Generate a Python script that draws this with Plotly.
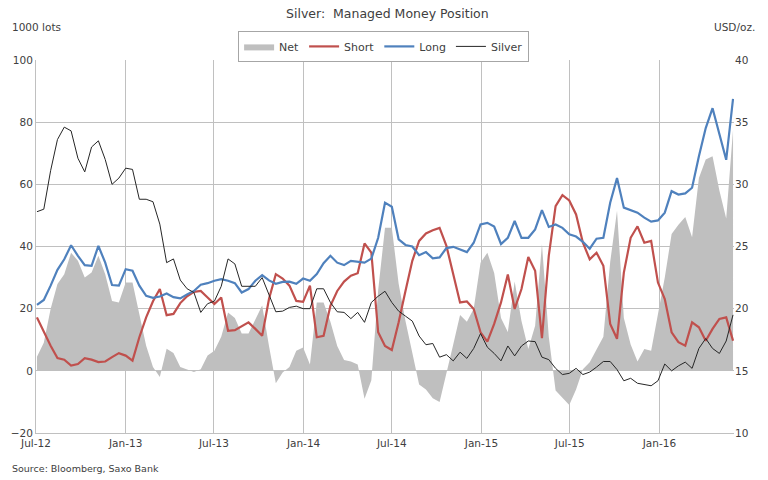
import pandas as pd
import plotly.graph_objects as go

# ---- data (biweekly readings, thousand lots / USD per oz) ----
dates = pd.date_range("2012-07-03", periods=103, freq="14D")

long_pos = [21.2, 22.8, 27.4, 32.5, 35.9, 40.4, 37.0, 34.0, 33.8, 40.2,
            34.8, 27.6, 27.4, 32.7, 32.2, 27.4, 24.1, 23.5, 23.9, 24.9,
            23.7, 23.3, 24.6, 25.7, 27.7, 28.2, 29.0, 29.5, 29.0, 28.2,
            25.2, 26.3, 29.0, 30.8, 29.1, 28.0, 28.6, 28.7, 28.0, 29.7,
            29.0, 31.1, 34.6, 37.0, 34.8, 34.0, 35.4, 35.1, 34.8, 36.1,
            42.8, 54.1, 52.8, 42.3, 40.5, 40.0, 37.2, 38.2, 36.2, 36.5,
            39.5, 39.9, 39.1, 38.2, 41.2, 47.1, 47.6, 46.4, 40.8, 42.8,
            48.2, 42.8, 42.8, 45.5, 51.7, 46.3, 47.1, 46.0, 43.9, 43.2,
            41.5, 39.3, 42.5, 42.8, 54.1, 62.0, 52.5, 51.6, 50.9, 49.3,
            48.0, 48.4, 50.9, 57.8, 56.7, 57.1, 58.9, 69.0, 78.1, 84.5,
            76.5, 67.9, 87.5]

short_pos = [17.2, 12.6, 8.1, 4.1, 3.6, 1.7, 2.2, 4.1, 3.6, 2.8,
             3.0, 4.4, 5.7, 4.9, 3.3, 10.8, 17.2, 22.4, 26.3, 17.9,
             18.3, 21.8, 24.0, 25.4, 25.7, 23.6, 21.5, 23.6, 12.9, 13.1,
             14.3, 15.6, 13.5, 11.3, 23.1, 31.1, 29.7, 27.4, 22.5, 22.2,
             27.4, 10.8, 11.3, 20.9, 25.7, 28.7, 30.6, 31.4, 41.0, 38.0,
             12.4, 8.0, 6.7, 15.6, 25.7, 35.4, 41.8, 44.2, 45.2, 46.0,
             40.2, 30.6, 22.0, 22.3, 19.9, 12.4, 9.4, 15.1, 22.0, 31.0,
             19.9, 26.3, 36.6, 32.2, 10.5, 37.0, 53.0, 56.5, 54.8, 50.3,
             41.2, 35.9, 38.0, 33.8, 15.1, 10.3, 31.6, 42.8, 46.5, 41.2,
             41.8, 28.4, 23.1, 12.4, 9.2, 8.1, 15.6, 14.0, 9.7, 13.5,
             16.7, 17.2, 9.7]

net_pos = [4.5, 9.0, 19.9, 27.9, 31.1, 38.0, 35.4, 30.0, 31.6, 37.0,
           31.1, 22.5, 22.0, 28.4, 28.4, 17.7, 8.1, 1.2, -2.0, 7.1,
           5.7, 1.2, 0.4, -0.4, 0.5, 4.9, 6.5, 11.0, 18.8, 17.0,
           12.0, 12.0, 16.5, 21.0, 8.0, -4.0, -0.5, 1.2, 6.5, 7.5,
           2.0, 22.0, 22.0, 15.8, 8.0, 3.5, 3.0, 2.0, -9.0, -3.0,
           26.0, 46.0, 46.0, 28.0, 16.0, 5.5, -4.4, -6.0, -8.8, -10.0,
           -1.0, 8.5, 18.0, 15.8, 20.0, 34.8, 38.0, 31.5, 17.0, 12.5,
           28.7, 16.0, 7.0, 14.5, 40.7, 11.0, -6.3, -8.5, -11.0, -6.0,
           0.5, 2.8, 7.0, 11.0, 35.0, 51.5, 17.0, 8.5, 3.0, 7.0,
           6.5, 18.0, 30.0, 44.0, 47.0, 49.5, 43.0, 62.0, 68.0, 69.0,
           58.0, 49.0, 77.5]

silver = [27.8, 28.0, 31.1, 33.6, 34.6, 34.3, 32.1, 31.0, 33.0, 33.5,
          32.0, 30.0, 30.5, 31.3, 31.2, 28.8, 28.8, 28.6, 26.8, 23.7,
          24.0, 22.3, 21.6, 21.3, 19.7, 20.4, 20.6, 21.8, 24.0, 23.6,
          21.8, 21.8, 21.8, 22.5, 21.2, 19.75, 19.8, 20.1, 20.2, 20.0,
          20.0, 21.6, 21.6, 20.5, 19.75, 19.7, 19.2, 19.7, 18.9, 20.5,
          21.0, 21.4, 20.5, 19.8, 19.4, 19.0, 17.8, 17.1, 17.2, 16.1,
          16.3, 15.8, 16.5, 16.0, 16.8, 18.0, 16.9, 16.4, 15.8, 17.0,
          16.2, 17.0, 17.4, 17.35, 16.1, 15.9, 15.2, 14.7, 14.8, 15.2,
          14.7, 14.9, 15.3, 15.75, 15.75, 15.1, 14.2, 14.4, 14.0, 13.9,
          13.8, 14.2, 15.55, 15.0, 15.4, 15.7, 15.2, 16.8, 17.6, 16.8,
          16.4, 17.4, 19.5]

tick_dates = ["2012-07-01", "2013-01-01", "2013-07-01", "2014-01-01",
              "2014-07-01", "2015-01-01", "2015-07-01", "2016-01-01"]
tick_labels = ["Jul-12", "Jan-13", "Jul-13", "Jan-14",
               "Jul-14", "Jan-15", "Jul-15", "Jan-16"]

FONT = "DejaVu Sans"
TXT = "#404040"
GRID = "#c0c0c0"

fig = go.Figure()
fig.add_trace(go.Scatter(x=dates, y=net_pos, name="Net", mode="lines",
                         line=dict(width=0, color="#bfbfbf"),
                         fill="tozeroy", fillcolor="#bfbfbf"))
fig.add_trace(go.Scatter(x=dates, y=short_pos, name="Short", mode="lines",
                         line=dict(width=2.2, color="#c0504d")))
fig.add_trace(go.Scatter(x=dates, y=long_pos, name="Long", mode="lines",
                         line=dict(width=2.2, color="#4f81bd")))
fig.add_trace(go.Scatter(x=dates, y=silver, name="Silver", mode="lines",
                         line=dict(width=1, color="#262626"), yaxis="y2"))

fig.update_layout(
    width=768, height=480,
    margin=dict(l=36, r=34, t=60, b=47),
    paper_bgcolor="white", plot_bgcolor="white",
    font=dict(family=FONT, size=10.5, color=TXT),
    showlegend=True,
    legend=dict(orientation="h", x=0.498, xanchor="center",
                y=1.078, yanchor="top",
                bordercolor="#a6a6a6", borderwidth=1,
                font=dict(family=FONT, size=11, color=TXT),
                itemwidth=30, tracegroupgap=0),
    xaxis=dict(type="date", range=["2012-07-01", "2016-06-02"],
               tickmode="array", tickvals=tick_dates, ticktext=tick_labels,
               showgrid=True, gridcolor=GRID, gridwidth=1,
               showline=True, linecolor=GRID, ticks="",
               tickfont=dict(family=FONT, size=10.5, color=TXT)),
    yaxis=dict(range=[-20, 100], dtick=20, tick0=0,
               showgrid=True, gridcolor=GRID, gridwidth=1,
               zeroline=False, showline=True, linecolor=GRID, ticks="",
               tickfont=dict(family=FONT, size=10.5, color=TXT)),
    yaxis2=dict(range=[10, 40], dtick=5, tick0=10, overlaying="y",
                side="right", showgrid=False, zeroline=False, ticks="",
                tickfont=dict(family=FONT, size=10.5, color=TXT)),
    annotations=[
        dict(text="Silver:\u00a0 Managed Money Position", xref="paper", yref="paper",
             x=0.503, y=1.126, xanchor="center", yanchor="middle", showarrow=False,
             font=dict(family=FONT, size=12.5, color=TXT)),
        dict(text="1000 lots", xref="paper", yref="paper",
             x=-0.0372, y=1.088, xanchor="left", yanchor="middle", showarrow=False,
             font=dict(family=FONT, size=10.5, color=TXT)),
        dict(text="USD/oz.", xref="paper", yref="paper",
             x=1.033, y=1.088, xanchor="right", yanchor="middle", showarrow=False,
             font=dict(family=FONT, size=10.5, color=TXT)),
        dict(text="Source: Bloomberg, Saxo Bank", xref="paper", yref="paper",
             x=-0.0372, y=-0.094, xanchor="left", yanchor="middle", showarrow=False,
             font=dict(family=FONT, size=9.5, color=TXT)),
    ],
)

fig.write_html("out.html", config={"displayModeBar": False},
               post_script="document.body.style.margin='0';document.body.style.overflow='hidden';")
